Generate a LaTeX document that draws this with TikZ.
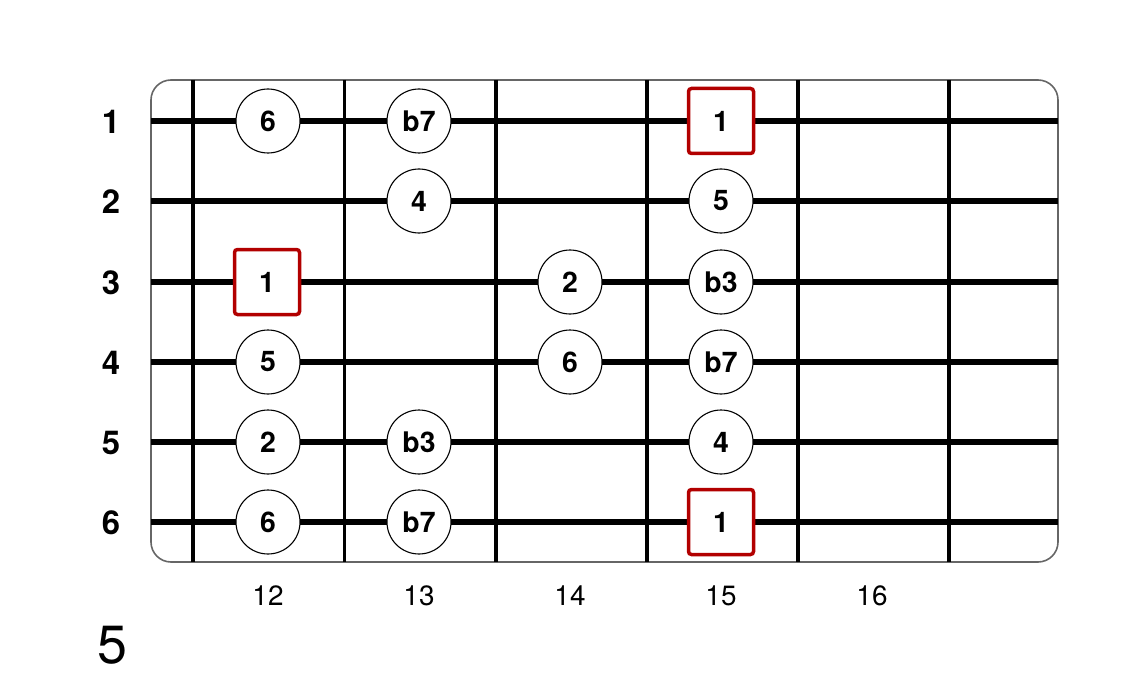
\documentclass[tikz,border=0pt]{standalone}
\usepackage{fontspec}
\setmainfont{TeX Gyre Heros}
\begin{document}
\begin{tikzpicture}[x=1bp,y=-1bp]
        \tikzset{
        board/.style={draw=black!60, line width=1.6bp, rounded corners=20bp},
        fret/.style={draw=black, line width=3.5bp},
        str/.style={draw=black, line width=5.5bp},
        note/.style={circle, minimum size=64bp, inner sep=0pt, fill=white, draw=black, line width=1.1bp, font=\fontsize{28.5}{28.5}\selectfont\bfseries},
        root/.style={rectangle, minimum size=65bp, inner sep=0pt, fill=white, draw=red!70!black, line width=3.5bp, rounded corners=3bp, font=\fontsize{28.5}{28.5}\selectfont\bfseries},
        slab/.style={font=\fontsize{33}{33}\selectfont\bfseries},
        flab/.style={font=\fontsize{28}{28}\selectfont}
        }
        \useasboundingbox (0,0) rectangle (1132,682);
        \draw[board] (151,80) rectangle (1058,562);

        \draw[fret] (193,80) -- (193,562);
        \draw[fret] (344.5,80) -- (344.5,562);
        \draw[fret] (496,80) -- (496,562);
        \draw[fret] (647,80) -- (647,562);
        \draw[fret] (798,80) -- (798,562);
        \draw[fret] (949,80) -- (949,562);

        \draw[str] (151,121) -- (1058,121);
        \draw[str] (151,201) -- (1058,201);
        \draw[str] (151,282) -- (1058,282);
        \draw[str] (151,362) -- (1058,362);
        \draw[str] (151,442) -- (1058,442);
        \draw[str] (151,522) -- (1058,522);

        % string numbers
        \node[slab] (s1) at (111,122) {1};
        \node[slab] (s2) at (111,202) {2};
        \node[slab] (s3) at (111,283) {3};
        \node[slab] (s4) at (111,363) {4};
        \node[slab] (s5) at (111,443) {5};
        \node[slab] (s6) at (111,523) {6};

        % notes
        \node[note] (n16) at (268,121) {6};
        \node[note] (n17) at (419,121) {b7};
        \node[root] (n11) at (721,121) {1};
        \node[note] (n24) at (419,201) {4};
        \node[note] (n25) at (721,201) {5};
        \node[root] (n31) at (267,282) {1};
        \node[note] (n32) at (570,282) {2};
        \node[note] (n33) at (721,282) {b3};
        \node[note] (n45) at (268,362) {5};
        \node[note] (n46) at (570,362) {6};
        \node[note] (n47) at (721,362) {b7};
        \node[note] (n52) at (268,442) {2};
        \node[note] (n53) at (419,442) {b3};
        \node[note] (n54) at (721,442) {4};
        \node[note] (n66) at (268,522) {6};
        \node[note] (n67) at (419,522) {b7};
        \node[root] (n61) at (721,522) {1};

        % fret numbers
        \node[flab] (f12) at (268,596) {12};
        \node[flab] (f13) at (419,596) {13};
        \node[flab] (f14) at (570,596) {14};
        \node[flab] (f15) at (721,596) {15};
        \node[flab] (f16) at (872,596) {16};

        \node[font=\fontsize{54}{54}\selectfont] (pos) at (112,645) {5};
\end{tikzpicture}
\end{document}
